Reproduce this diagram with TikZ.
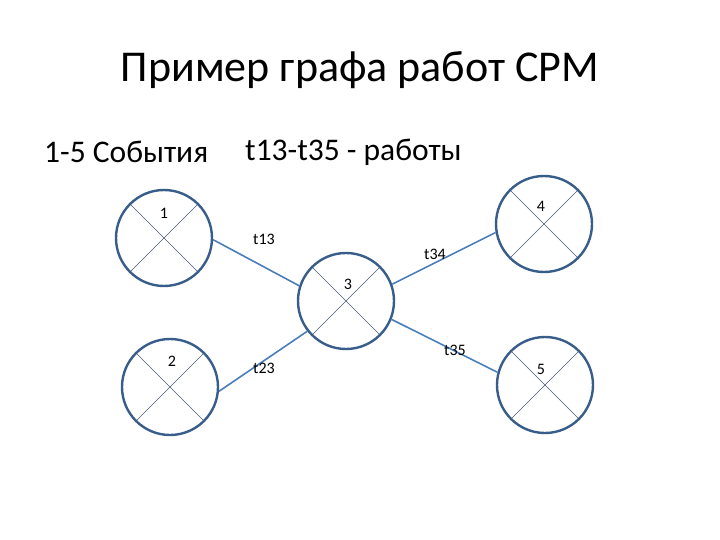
\documentclass[tikz,border=0pt]{standalone}
\usepackage{fontspec}
\setmainfont{Carlito}
\definecolor{ring}{HTML}{385D8A}
\definecolor{link}{HTML}{4A7EBB}
\definecolor{cross}{HTML}{4A5A75}
\begin{document}
\begin{tikzpicture}[x=1pt,y=-1pt,
  event/.style={circle,draw=ring,line width=2.4pt,minimum size=96pt,inner sep=0pt},
  work/.style={draw=link,line width=1.6pt},
  xline/.style={draw=cross,line width=0.6pt},
  lbl/.style={font=\fontsize{16}{18}\selectfont,inner sep=0pt},
  wl/.style={font=\fontsize{16}{18}\selectfont,inner sep=0pt}]
\useasboundingbox (0,0) rectangle (720,540);
\node[font=\fontsize{44}{52}\selectfont] (title) at (360,70) {Пример графа работ CPM};
\node[font=\fontsize{31.5}{38}\selectfont,anchor=west,inner sep=0pt] (sub1) at (44,152) {1-5 События};
\node[font=\fontsize{31.5}{38}\selectfont,anchor=west,inner sep=0pt] (sub2) at (245,152) {t13-t35 - работы};
\node[event] (e1) at (164,238) {};
\node[event] (e2) at (170,387) {};
\node[event] (e3) at (346,301) {};
\node[event] (e4) at (544,224) {};
\node[event] (e5) at (545,385) {};
\foreach \n in {e1,e2,e3,e4,e5}{
  \draw[xline] (\n.north west) -- (\n.south east);
  \draw[xline] (\n.north east) -- (\n.south west);
}
\node[lbl] (l1) at (164,213) {1};
\node[lbl] (l2) at (172,361) {2};
\node[lbl] (l3) at (348,284) {3};
\node[lbl] (l4) at (541,206) {4};
\node[lbl] (l5) at (541,369) {5};
\draw[work] (e1.-2) -- (e3.162);
\draw[work] (e2.-5) -- (e3.-142);
\draw[work] (e3.20) -- (e4.190);
\draw[work] (e3.-22) -- (e5.165);
\node[wl] (t13) at (264,239) {t13};
\node[wl] (t23) at (264,368) {t23};
\node[wl] (t34) at (435,254) {t34};
\node[wl] (t35) at (455,350) {t35};
\end{tikzpicture}
\end{document}
